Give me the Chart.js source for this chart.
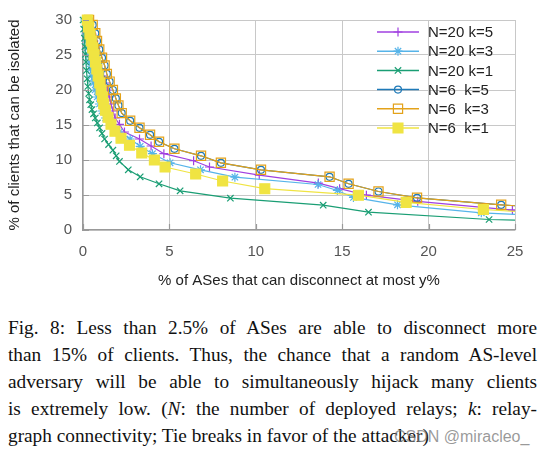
<!DOCTYPE html>
<html lang="en">
<head>
    <meta charset="UTF-8">
    <script src="https://cdn.jsdelivr.net/npm/chart.js"></script>
    <title>Fig. 8</title>
    <style>
        body {
            margin: 0;
            padding: 0;
            background-color: #fff;
            width: 547px;
            height: 453px;
            position: relative;
            overflow: hidden;
        }

        #chartBox {
            position: absolute;
            left: 0;
            top: 0;
            width: 547px;
            height: 300px;
        }

        .caption {
            position: absolute;
            left: 8px;
            top: 314px;
            width: 529px;
            font-family: 'Liberation Serif', 'Times New Roman', serif;
            font-size: 19.3px;
            line-height: 27px;
            color: #111;
        }

        .caption div {
            text-align: justify;
            text-align-last: justify;
            white-space: nowrap;
        }

        .caption div.last {
            text-align-last: left;
        }

        .mark {
            position: absolute;
            left: 394px;
            top: 428px;
            font-family: 'Liberation Sans', Arial, sans-serif;
            font-size: 16px;
            color: rgba(120, 120, 120, 0.75);
        }
    </style>
</head>
<body>
    <div id="chartBox"><canvas id="myChart" width="547" height="300"></canvas></div>
    <div class="caption">
        <div>Fig. 8: Less than 2.5% of ASes are able to disconnect more</div>
        <div>than 15% of clients. Thus, the chance that a random AS-level</div>
        <div>adversary will be able to simultaneously hijack many clients</div>
        <div>is extremely low. (<i>N</i>: the number of deployed relays; <i>k</i>: relay-</div>
        <div class="last">graph connectivity; Tie breaks in favor of the attacker)</div>
    </div>
    <div class="mark">CSDN @miracleo_</div>
    <script>
        // series names
        const seriesNames = ['N=20 k=5', 'N=20 k=3', 'N=20 k=1', 'N=6  k=5', 'N=6  k=3', 'N=6  k=1'];

        // N=20 k=5
        const x20k5 = [0.28, 0.4, 0.52, 0.63, 0.75, 0.86, 0.97, 1.08, 1.19, 1.3, 1.41, 1.52, 1.62, 1.73, 1.86, 2.11, 2.4, 3.27, 3.94, 4.68, 6.4, 7.32, 10.2, 13.62, 14.85, 16.4, 19.37, 24.85, 26];
        const y20k5 = [30, 29, 28, 27, 26, 25, 24, 23, 22, 21, 20, 19, 18, 17, 16, 15.1, 14, 13, 12, 10.9, 9.9, 9, 7.85, 6.7, 5.9, 4.97, 4.1, 2.85, 2.7];

        // N=20 k=3
        const x20k3 = [0.1, 0.13, 0.17, 0.2, 0.25, 0.3, 0.36, 0.43, 0.5, 0.6, 0.7, 0.82, 0.95, 1.1, 1.3, 1.6, 2.1, 2.73, 3.31, 4.02, 5.04, 6.8, 8.79, 13.6, 14.72, 15.65, 18.2, 23.05, 26];
        const y20k3 = [30, 29, 28, 27, 26, 25, 24, 23, 22, 21, 20, 19, 18, 17, 16, 15, 14, 13, 11.95, 10.9, 9.6, 8.6, 7.55, 6.5, 5.65, 4.65, 3.6, 2.45, 2.1];

        // N=20 k=1
        const x20k1 = [0.0, 0.04, 0.08, 0.11, 0.14, 0.17, 0.2, 0.24, 0.28, 0.33, 0.38, 0.45, 0.52, 0.61, 0.71, 0.83, 0.96, 1.1, 1.25, 1.48, 1.73, 1.92, 2.11, 2.62, 3.31, 4.4, 5.62, 8.53, 13.9, 16.52, 23.5, 26];
        const y20k1 = [30, 28.7, 27.4, 26.2, 25.1, 24, 22.8, 21.6, 20.5, 19.5, 18.6, 17.9, 17.2, 16.6, 16.0, 15.3, 14.6, 13.8, 13.0, 12.2, 11.4, 10.6, 9.8, 8.6, 7.6, 6.6, 5.6, 4.55, 3.55, 2.55, 1.5, 1.35];

        // N=6 k=5
        const x6k5 = [0.35, 0.56, 0.71, 0.81, 0.94, 1.1, 1.25, 1.38, 1.54, 1.73, 1.9, 2.05, 2.24, 2.73, 3.27, 3.88, 4.4, 5.29, 6.83, 7.98, 10.3, 14.27, 15.37, 17.1, 19.33, 24.2, 26];
        const y6k5 = [30, 29.3, 28.1, 27, 25.8, 24.6, 23.5, 22.3, 21.2, 20, 18.8, 17.8, 16.7, 15.6, 14.6, 13.6, 12.6, 11.6, 10.6, 9.6, 8.6, 7.6, 6.6, 5.5, 4.6, 3.6, 3.3];

        // N=6 k=3
        const x6k3 = [0.35, 0.56, 0.71, 0.81, 0.94, 1.1, 1.25, 1.38, 1.54, 1.73, 1.9, 2.05, 2.24, 2.73, 3.27, 3.88, 4.4, 5.29, 6.83, 7.98, 10.3, 14.27, 15.37, 17.1, 19.33, 24.2, 26];
        const y6k3 = [30, 29.3, 28.1, 27, 25.8, 24.6, 23.5, 22.3, 21.2, 20, 18.8, 17.8, 16.7, 15.6, 14.6, 13.6, 12.6, 11.6, 10.6, 9.6, 8.6, 7.6, 6.6, 5.5, 4.6, 3.6, 3.3];

        // N=6 k=1
        const x6k1 = [0.25, 0.32, 0.4, 0.48, 0.56, 0.64, 0.72, 0.8, 0.88, 0.97, 1.05, 1.13, 1.2, 1.3, 1.45, 1.62, 1.85, 2.2, 2.69, 3.4, 4.13, 4.75, 6.52, 8.08, 10.52, 15.94, 18.7, 23.17, 26];
        const y6k1 = [30, 29, 28, 27, 26, 25, 24, 23, 22, 21, 20, 19, 18, 17.1, 16.1, 15.1, 14.1, 13.1, 12.1, 11.0, 10.0, 9.0, 8.0, 7.0, 5.9, 4.97, 3.95, 2.93, 2.5];

        const xTicks = [0, 5, 10, 15, 20, 25];
        const yTicks = [0, 5, 10, 15, 20, 25, 30];

        const pts = (xs, ys) => xs.map((x, i) => ({ x: x, y: ys[i] }));

        function makeSet(i, xs, ys, color, style, radius, fill, order) {
            return {
                label: seriesNames[i],
                data: pts(xs, ys),
                showLine: true,
                borderColor: color,
                backgroundColor: fill,
                borderWidth: 1.2,
                tension: 0,
                pointStyle: style,
                pointRadius: radius,
                pointHoverRadius: radius,
                pointBorderColor: color,
                pointBackgroundColor: fill,
                pointBorderWidth: 1.2,
                clip: { left: 6, top: 8, right: 0, bottom: 0 },
                order: order
            };
        }

        const datasets = [
            makeSet(0, x20k5, y20k5, '#a040e0', 'cross', 4.5, 'rgba(0,0,0,0)', 5),
            makeSet(1, x20k3, y20k3, '#56b4e9', 'star', 4.5, 'rgba(0,0,0,0)', 4),
            makeSet(2, x20k1, y20k1, '#1a9e74', 'crossRot', 4.5, 'rgba(0,0,0,0)', 3),
            makeSet(3, x6k5, y6k5, '#1f7ab8', 'circle', 3.5, 'rgba(0,0,0,0)', 2),
            makeSet(4, x6k3, y6k3, '#e3a21a', 'rect', 6.5, 'rgba(0,0,0,0)', 1),
            makeSet(5, x6k1, y6k1, '#f0e442', 'rect', 7, '#f0e442', 0)
        ];

        // gnuplot style key inside the plot, top right
        const keyPlugin = {
            id: 'key',
            afterDraw(chart) {
                const ctx = chart.ctx;
                const x0 = 377, x1 = 419, tx = 428, top = 32, step = 19.2;
                ctx.save();
                datasets.forEach((ds, i) => {
                    const y = top + i * step;
                    ctx.strokeStyle = ds.borderColor;
                    ctx.lineWidth = 1.5;
                    ctx.beginPath();
                    ctx.moveTo(x0, y);
                    ctx.lineTo(x1, y);
                    ctx.stroke();
                    ctx.fillStyle = ds.pointBackgroundColor;
                    ctx.strokeStyle = ds.pointBorderColor;
                    ctx.lineWidth = 1.2;
                    Chart.helpers.drawPoint(ctx, {
                        pointStyle: ds.pointStyle,
                        radius: ds.pointRadius,
                        rotation: 0,
                        borderWidth: 1.2
                    }, (x0 + x1) / 2, y);
                    ctx.fillStyle = '#222';
                    ctx.font = '15px "Liberation Sans", Arial, sans-serif';
                    ctx.textBaseline = 'middle';
                    ctx.fillText(ds.label, tx, y + 1);
                });
                ctx.restore();
            }
        };

        // small inward tick marks on the left and bottom border
        const tickPlugin = {
            id: 'inTicks',
            afterDatasetsDraw(chart) {
                const ctx = chart.ctx;
                const a = chart.chartArea;
                const xs = chart.scales.x, ys = chart.scales.y;
                ctx.save();
                ctx.strokeStyle = '#999';
                ctx.lineWidth = 1.2;
                ctx.beginPath();
                xTicks.forEach(v => {
                    const px = Math.round(xs.getPixelForValue(v)) + 0.5;
                    ctx.moveTo(px, a.bottom);
                    ctx.lineTo(px, a.bottom - 6);
                });
                yTicks.forEach(v => {
                    const py = Math.round(ys.getPixelForValue(v)) + 0.5;
                    ctx.moveTo(a.left, py);
                    ctx.lineTo(a.left + 6, py);
                });
                ctx.stroke();
                ctx.restore();
            }
        };

        const tickFont = { family: '"Liberation Sans", Arial, sans-serif', size: 15 };
        const titleFont = { family: '"Liberation Sans", Arial, sans-serif', size: 15 };
        const gridStyle = {
            color: '#c8c8c8',
            lineWidth: 1,
            drawTicks: false
        };

        const config = {
            type: 'scatter',
            data: { datasets: datasets },
            options: {
                responsive: false,
                animation: false,
                events: [],
                layout: { padding: { top: 15, right: 32, left: 0, bottom: 0 } },
                plugins: {
                    legend: { display: false },
                    tooltip: { enabled: false }
                },
                scales: {
                    x: {
                        type: 'linear',
                        min: 0,
                        max: 25,
                        afterFit(scale) { scale.height = 70; },
                        afterBuildTicks(scale) { scale.ticks = xTicks.map(v => ({ value: v })); },
                        grid: gridStyle,
                        border: { display: true, color: '#999', width: 1.3, dash: [] },
                        ticks: { font: tickFont, color: '#555', padding: 13, maxRotation: 0 },
                        title: {
                            display: true,
                            text: '% of ASes that can disconnect at most y%',
                            font: titleFont,
                            color: '#222',
                            padding: { top: 4, bottom: 10 }
                        }
                    },
                    y: {
                        type: 'linear',
                        min: 0,
                        max: 30,
                        afterFit(scale) { scale.width = 83; },
                        afterBuildTicks(scale) { scale.ticks = yTicks.map(v => ({ value: v })); },
                        grid: gridStyle,
                        border: { display: true, color: '#999', width: 1.3, dash: [] },
                        ticks: { font: tickFont, color: '#555', padding: 11 },
                        title: {
                            display: true,
                            text: '% of clients that can be isolated',
                            font: titleFont,
                            color: '#222',
                            padding: { top: 6, bottom: 0 }
                        }
                    }
                }
            },
            plugins: [keyPlugin, tickPlugin]
        };

        // dotted grid like gnuplot
        config.options.scales.x.grid.borderDash = [1.5, 3];
        config.options.scales.y.grid.borderDash = [1.5, 3];

        const ctx = document.getElementById('myChart').getContext('2d');
        const myChart = new Chart(ctx, config);
    </script>
</body>
</html>
